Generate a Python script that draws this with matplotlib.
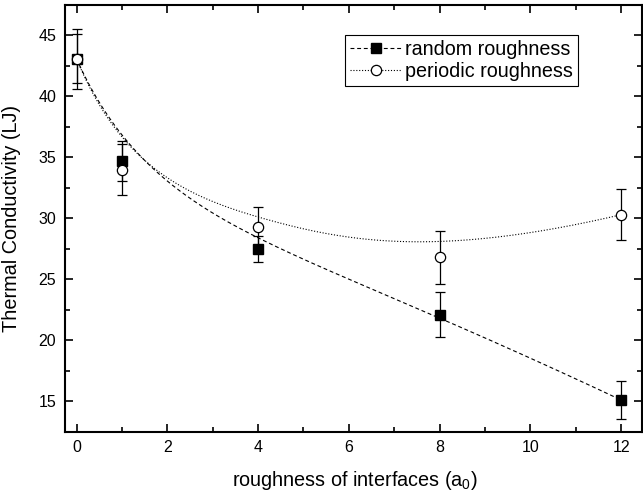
import numpy as np
import matplotlib
matplotlib.use("Agg")
import matplotlib.pyplot as plt
from matplotlib.ticker import MultipleLocator

plt.rcParams['font.family'] = ['Liberation Sans', 'DejaVu Sans']
plt.rcParams['mathtext.fontset'] = 'custom'
plt.rcParams['mathtext.rm'] = 'Liberation Sans'

roughness = [0, 1, 4, 8, 12]
random_k = [43.1, 34.7, 27.5, 22.1, 15.1]
random_err = [2.0, 1.65, 1.05, 1.85, 1.55]
periodic_k = [43.1, 34.0, 29.3, 26.8, 30.3]
periodic_err = [2.45, 2.1, 1.6, 2.2, 2.1]
series_labels = ['random roughness', 'periodic roughness']


def bspline(xs, ys, n=300, k=3):
    """Clamped B-spline using the data points as control points."""
    P = np.column_stack([xs, ys]).astype(float)
    m = len(P)
    inner = np.linspace(0, 1, m - k + 1)[1:-1]
    knots = np.concatenate([np.zeros(k + 1), inner, np.ones(k + 1)])
    us = np.linspace(0, 1, n)
    out = []
    for u in us:
        N = np.zeros(len(knots) - 1)
        if u >= 1.0:
            idx = np.max(np.where(knots < 1.0)[0])
            N[idx] = 1.0
        else:
            for i in range(len(knots) - 1):
                if knots[i] <= u < knots[i + 1]:
                    N[i] = 1.0
        for d in range(1, k + 1):
            Nn = np.zeros(len(knots) - 1 - d)
            for i in range(len(Nn)):
                a = 0.0
                if knots[i + d] != knots[i]:
                    a = (u - knots[i]) / (knots[i + d] - knots[i]) * N[i]
                b = 0.0
                if knots[i + d + 1] != knots[i + 1]:
                    b = (knots[i + d + 1] - u) / (knots[i + d + 1] - knots[i + 1]) * N[i + 1]
                Nn[i] = a + b
            N = Nn
        out.append(N @ P)
    out = np.array(out)
    return out[:, 0], out[:, 1]


W, H = 643, 494
fig = plt.figure(figsize=(W / 100, H / 100), dpi=100)
L, R, T, B = 64.5, 642, 5, 431.7
ax = fig.add_axes([L / W, 1 - B / H, (R - L) / W, (B - T) / H])

rx, ry = bspline(roughness, random_k)
px, py = bspline(roughness, periodic_k)

dash = (0, (3.5, 2.5))
dot = (0, (1, 1.6))
ax.plot(rx, ry, color='black', linestyle=dash, linewidth=0.8)
ax.plot(px, py, color='black', linestyle=dot, linewidth=0.8)

ax.errorbar(roughness, random_k, yerr=random_err, fmt='none', ecolor='black',
            elinewidth=0.9, capsize=3.4, capthick=0.9)
ax.errorbar(roughness, periodic_k, yerr=periodic_err, fmt='none', ecolor='black',
            elinewidth=0.9, capsize=3.4, capthick=0.9)
ax.plot(roughness, random_k, linestyle='none', marker='s', markersize=6.6,
        markerfacecolor='black', markeredgecolor='black', zorder=4)
ax.plot(roughness, periodic_k, linestyle='none', marker='o', markersize=7.4,
        markerfacecolor='white', markeredgecolor='black', markeredgewidth=0.9, zorder=5)

h1, = ax.plot([], [], color='black', linestyle=dash, linewidth=0.8,
              marker='s', markersize=6.6, markerfacecolor='black')
h2, = ax.plot([], [], color='black', linestyle=dot, linewidth=0.8,
              marker='o', markersize=7.4, markerfacecolor='white', markeredgewidth=0.9)
leg = ax.legend([h1, h2], series_labels,
                loc='upper left', bbox_to_anchor=(345 / W, 1 - 35 / H),
                bbox_transform=fig.transFigure, fontsize=14.2, frameon=True,
                fancybox=False, edgecolor='black', framealpha=1,
                handlelength=2.6, handletextpad=0.2, borderpad=0.25,
                labelspacing=0.15, borderaxespad=0)
leg.get_frame().set_linewidth(0.8)

ax.set_xlim(-0.265, 12.46)
ax.set_ylim(12.5, 47.5)
ax.xaxis.set_major_locator(MultipleLocator(2))
ax.xaxis.set_minor_locator(MultipleLocator(1))
ax.yaxis.set_major_locator(MultipleLocator(5))
ax.yaxis.set_minor_locator(MultipleLocator(2.5))
ax.tick_params(which='both', direction='in', top=True, right=True,
               labelsize=11.5, width=1.2)
ax.tick_params(which='major', length=5.5, pad=6)
ax.tick_params(which='minor', length=3.5)
for s in ax.spines.values():
    s.set_linewidth(1.5)

ax.set_xlabel(r'roughness of interfaces (a$_\mathrm{0}$)', fontsize=14.3)
ax.set_ylabel('Thermal Conductivity (LJ)', fontsize=14.3)
ax.xaxis.set_label_coords((355 - L) / (R - L), (B - 480) / (B - T))
ax.yaxis.set_label_coords((12 - L) / (R - L), 0.5)
ax.xaxis.label.set_verticalalignment('center')
ax.yaxis.label.set_verticalalignment('center')

fig.savefig('out.png', dpi=100)
